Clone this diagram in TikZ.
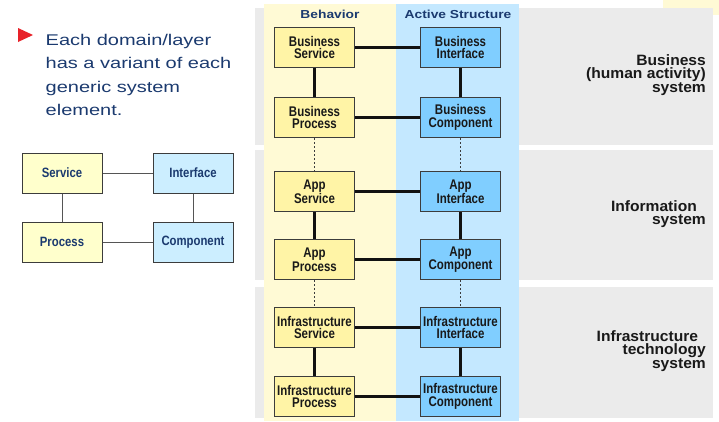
\documentclass[tikz,border=0pt]{standalone}
\usepackage{fontspec}
\setmainfont{Liberation Sans}
\newfontfamily\boxfont[FakeStretch=0.82]{Liberation Sans}
\newfontfamily\smallfont[FakeStretch=0.84]{Liberation Sans}
\newfontfamily\hdrfont[FakeStretch=1.19]{Liberation Sans}
\newfontfamily\leftfont[FakeStretch=1.29]{Liberation Sans}
\newfontfamily\rightfont[FakeStretch=1.04]{Liberation Sans}
\definecolor{grayband}{HTML}{EBEBEB}
\definecolor{colYellow}{HTML}{FFFAD5}
\definecolor{colBlue}{HTML}{C4E8FF}
\definecolor{boxYellow}{HTML}{FFF4A6}
\definecolor{boxBlue}{HTML}{80CEFF}
\definecolor{smallYellow}{HTML}{FFFFCC}
\definecolor{smallBlue}{HTML}{CCEEFF}
\definecolor{navy}{HTML}{1B3A6F}
\definecolor{bulletred}{HTML}{E82229}
\definecolor{boxline}{HTML}{3C3C3C}
\definecolor{thinline}{HTML}{555555}
\definecolor{thickline}{HTML}{111111}
\begin{document}
\begin{tikzpicture}[x=1pt,y=-1pt,
  mbox/.style={draw=boxline, line width=1.2pt, minimum width=80pt, minimum height=40.5pt,
    inner sep=0pt, align=center, text=black!90,
    font=\boxfont\bfseries\fontsize{14}{12.5}\selectfont},
  sbox/.style={draw=boxline, line width=1pt, minimum width=80pt, minimum height=40pt,
    inner sep=0pt, align=center, text=navy,
    font=\smallfont\bfseries\fontsize{13.5}{13}\selectfont},
  thickc/.style={draw=thickline, line width=3pt},
  dotc/.style={draw=boxline, line width=0.9pt, dash pattern=on 2pt off 2pt},
  thinc/.style={draw=thinline, line width=1pt},
  hdr/.style={anchor=base, inner sep=0pt, text=navy,
    font=\hdrfont\bfseries\fontsize{11.6}{13}\selectfont},
  rlabel/.style={anchor=north east, inner sep=0pt, align=right, text=black!90,
    font=\rightfont\bfseries\fontsize{15}{13.8}\selectfont}
]
\useasboundingbox (0,0) rectangle (719,421);
\fill[white] (0,0) rectangle (719,421);
% background bands
\fill[colYellow] (663,0) rectangle (719,15);
\fill[grayband] (255,8) rectangle (713,145);
\fill[grayband] (255,150) rectangle (713,280);
\fill[grayband] (255,287) rectangle (713,418);
\fill[colYellow] (264,4) rectangle (396,421);
\fill[colBlue] (396,4) rectangle (519,421);

% headers
\node[hdr] (hb) at (330,18.3) {Behavior};
\node[hdr] (ha) at (458,18.3) {Active Structure};

% main boxes
\node[mbox, fill=boxYellow] (bs) at (314.5,47.5) {Business\\Service};
\node[mbox, fill=boxBlue]   (bi) at (460.5,47.5) {Business\\Interface};
\node[mbox, fill=boxYellow] (bp) at (314.5,117.5) {Business\\Process};
\node[mbox, fill=boxBlue]   (bc) at (460.5,117.5) {Business\\Component};
\node[mbox, fill=boxYellow] (as) at (314.5,191.5) {App\\Service};
\node[mbox, fill=boxBlue]   (ai) at (460.5,191.5) {App\\Interface};
\node[mbox, fill=boxYellow] (ap) at (314.5,259.5) {App\\Process};
\node[mbox, fill=boxBlue]   (ac) at (460.5,259.5) {App\\Component};
\node[mbox, fill=boxYellow] (is) at (314.5,327.5) {Infrastructure\\Service};
\node[mbox, fill=boxBlue]   (ii) at (460.5,327.5) {Infrastructure\\Interface};
\node[mbox, fill=boxYellow] (ip) at (314.5,396.5) {Infrastructure\\Process};
\node[mbox, fill=boxBlue]   (ic) at (460.5,396.5) {Infrastructure\\Component};

% connectors
\draw[thickc] (bs) -- (bi);
\draw[thickc] (bp) -- (bc);
\draw[thickc] (bs) -- (bp);
\draw[thickc] (bi) -- (bc);
\draw[thickc] (as) -- (ai);
\draw[thickc] (ap) -- (ac);
\draw[thickc] (as) -- (ap);
\draw[thickc] (ai) -- (ac);
\draw[thickc] (is) -- (ii);
\draw[thickc] (ip) -- (ic);
\draw[thickc] (is) -- (ip);
\draw[thickc] (ii) -- (ic);
\draw[dotc] (bp) -- (as);
\draw[dotc] (bc) -- (ai);
\draw[dotc] (ap) -- (is);
\draw[dotc] (ac) -- (ii);

% right labels
\node[rlabel] (lb) at (706,54) {Business\\(human activity)\\system};
\node[rlabel] (li) at (706,200) {Information\hspace*{9pt}\\system};
\node[rlabel] (lt) at (706,330) {Infrastructure\hspace*{7.7pt}\\technology\\system};

% left bullet text
\fill[bulletred] (18,28) -- (18,42) -- (33,35) -- cycle;
\node[anchor=north west, inner sep=0pt, align=left, text=navy,
  font=\leftfont\fontsize{15.5}{23.4}\selectfont] (txt) at (45.5,34)
  {Each domain/layer\\has a variant of each\\generic system\\element.};

% small diagram
\node[sbox, fill=smallYellow] (sv) at (62,173) {Service};
\node[sbox, fill=smallBlue]   (sf) at (193,173) {Interface};
\node[sbox, fill=smallYellow] (sp) at (62,242) {Process};
\node[sbox, fill=smallBlue]   (sc) at (193,242) {Component};
\draw[thinc] (sv) -- (sf);
\draw[thinc] (sp) -- (sc);
\draw[thinc] (sv) -- (sp);
\draw[thinc] (sf) -- (sc);
\end{tikzpicture}
\end{document}
